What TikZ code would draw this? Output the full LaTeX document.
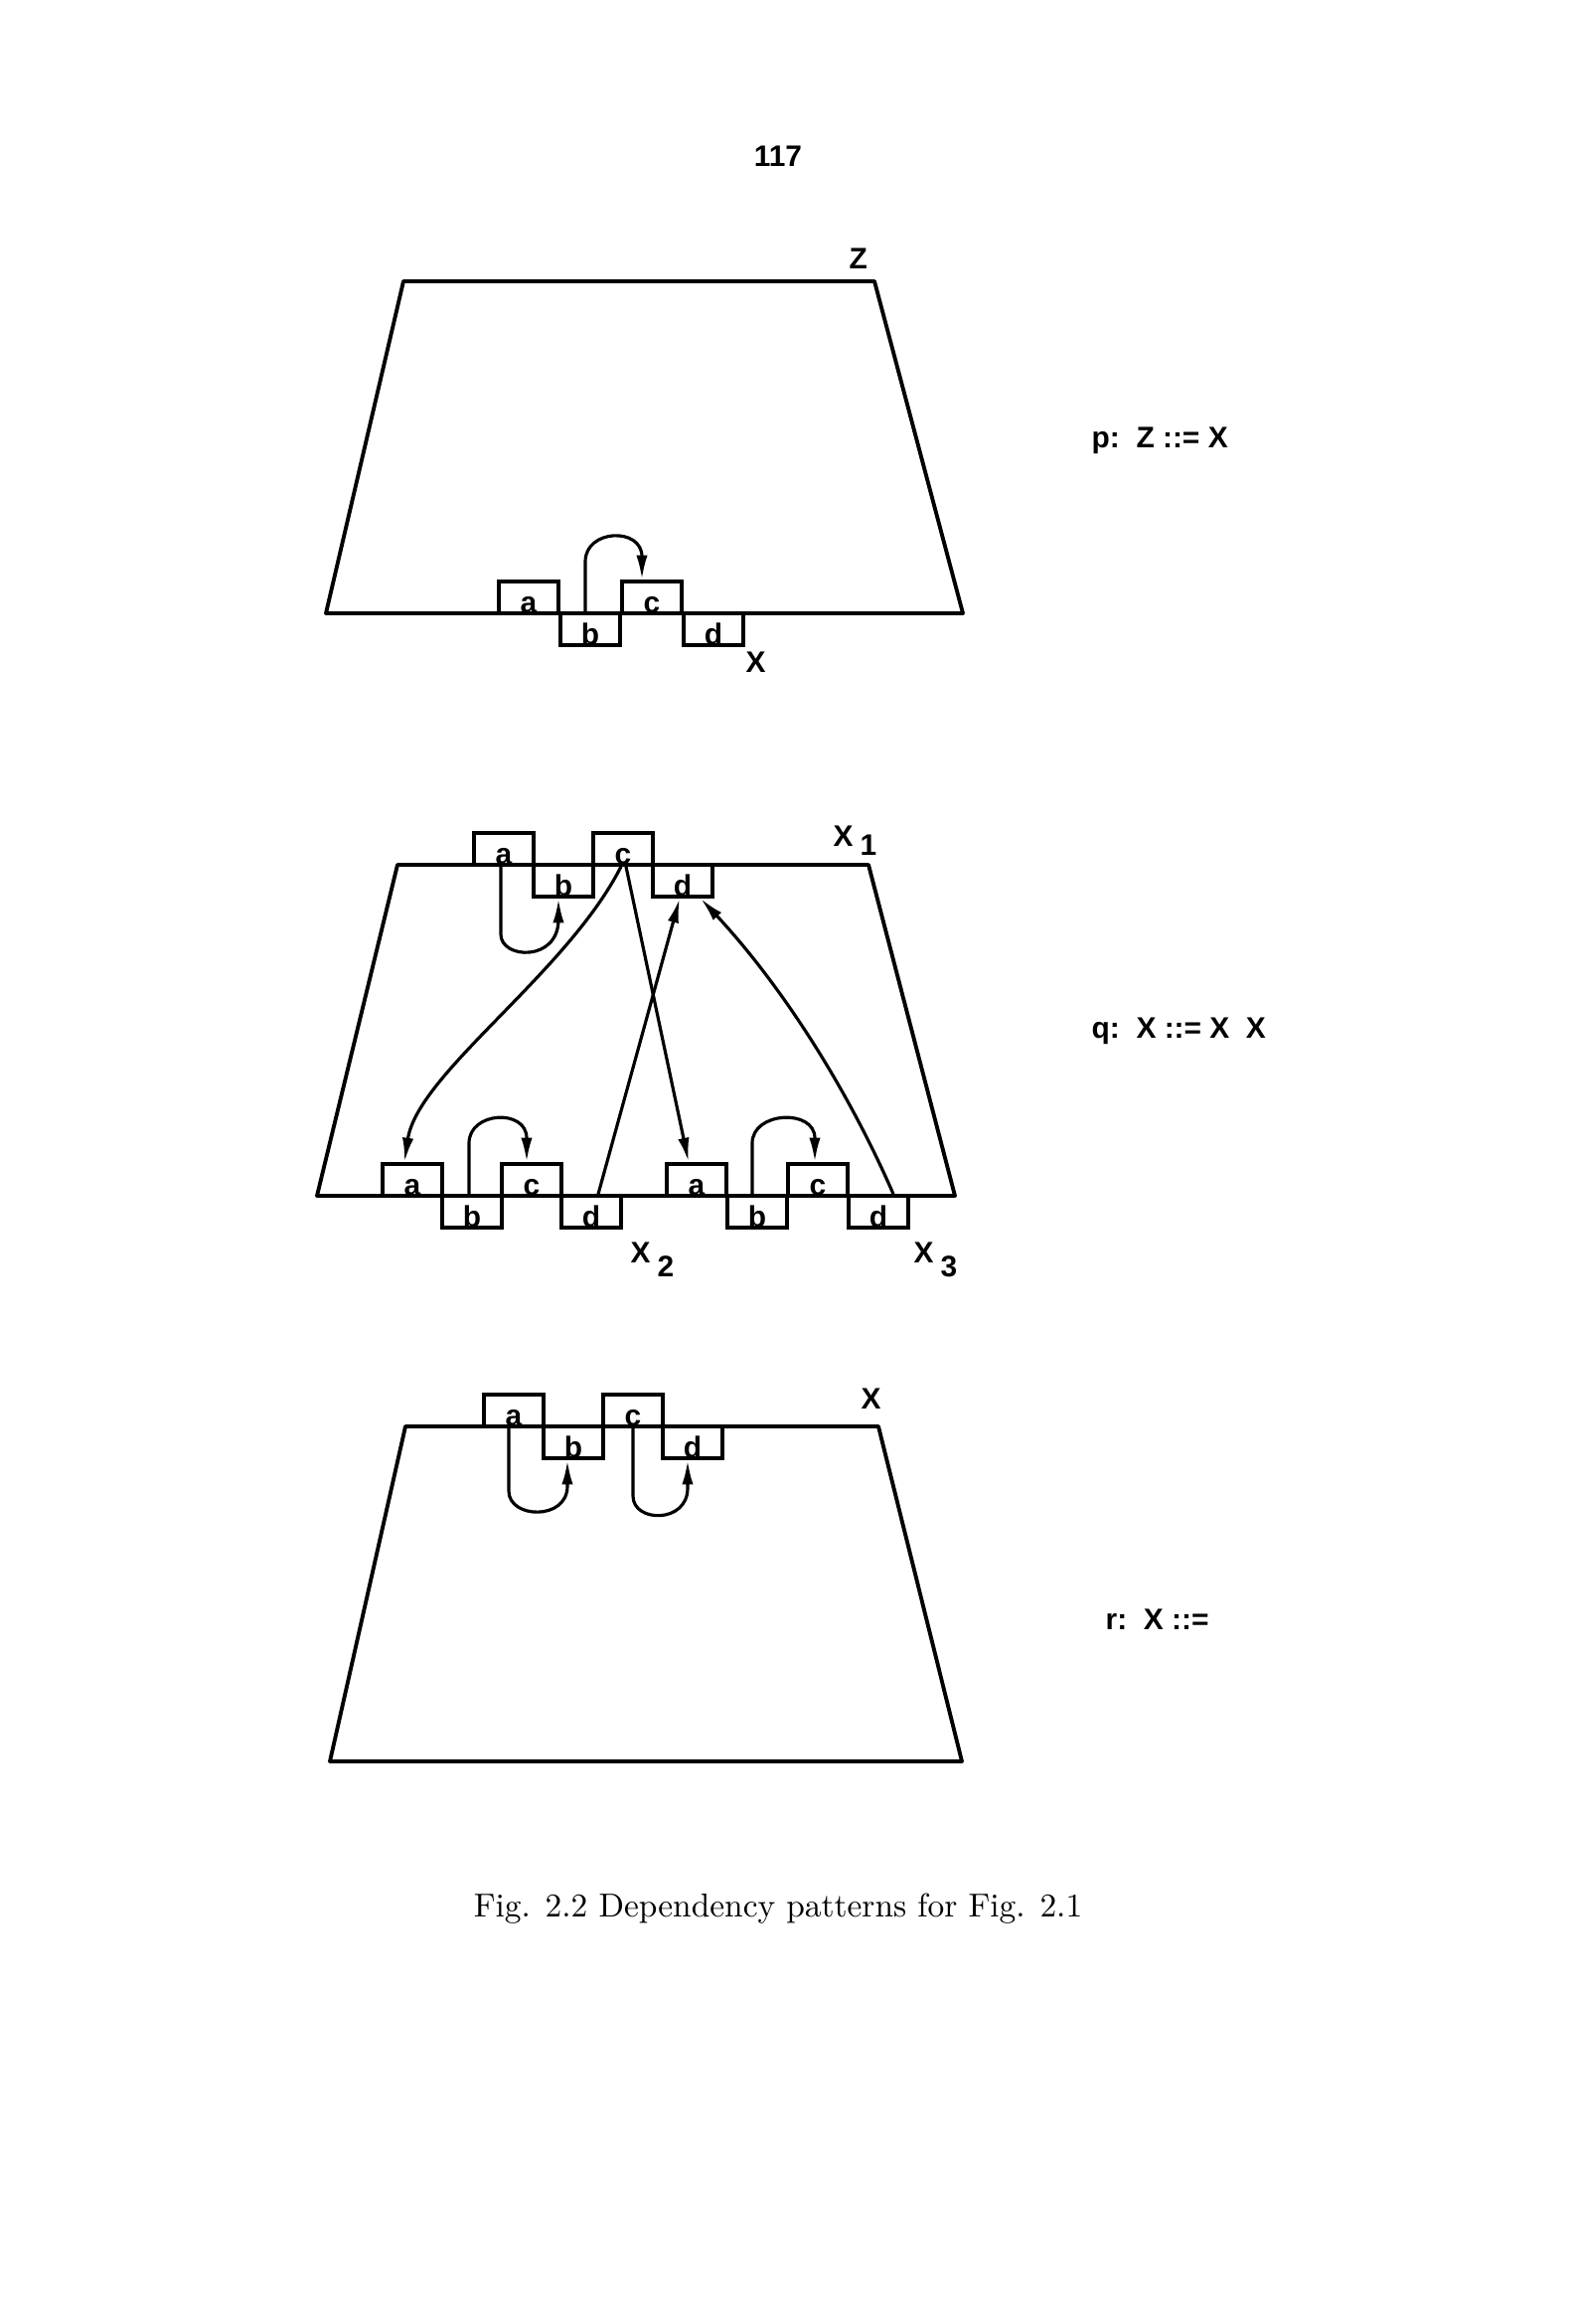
\documentclass[tikz,border=0pt]{standalone}
\usepackage{fontspec}
\setsansfont{Liberation Sans}
\usepackage{tikz}
\usetikzlibrary{arrows.meta, positioning, calc}

\begin{document}
\begin{tikzpicture}[x=0.01cm, y=-0.01cm,
  frame/.style={line width=1.1pt, line join=round},
  slot/.style={draw, line width=1pt, minimum width=0.6cm, minimum height=0.32cm, inner sep=0pt},
  lbl/.style={anchor=base, yshift=0.6pt, inner sep=0pt, font=\fontsize{8.5}{10}\sffamily\bfseries},
  dep/.style={line width=0.9pt, -{Latex[length=7pt,width=3.2pt]}},
  sym/.style={anchor=base west, inner sep=0pt, font=\fontsize{8.5}{10}\sffamily\bfseries}]

\useasboundingbox[fill=white] (0,0) rectangle (1587,2338);

% Page number
\node[font=\fontsize{8.5}{10}\sffamily\bfseries] (page) at (783,157) {117};

% Trees
\draw[frame] (406,283) -- (880,283) -- (969,617) -- (328,617) -- cycle;
\draw[frame] (400,870) -- (874,870) -- (961,1203) -- (319,1203) -- cycle;
\draw[frame] (408,1435) -- (884,1435) -- (968,1772) -- (332,1772) -- cycle;

% Attribute slots a b c d
\foreach \row/\x/\y/\s in {p/532/617/62, q1/507/870/60, q2/415/1203/60, q3/701/1203/61, r/517/1435/60}
    \foreach \n/\i/\d in {a/0/-1, b/1/1, c/2/-1, d/3/1}
        \node[slot, label={[lbl]south:\n}] (\row\n) at ({\x+\i*\s},{\y+\d*16}) {};

% Symbol names
\node[sym] (pZ) at (854,270) {Z};
\node[sym] (pX) at (750,676) {X};
\node[sym] (qX1) at (838,851) {X\hspace{2pt}\raisebox{-2.8pt}{1}};
\node[sym] (qX2) at (634,1270) {X\hspace{2pt}\raisebox{-4pt}{2}};
\node[sym] (qX3) at (919,1270) {X\hspace{2pt}\raisebox{-4pt}{3}};
\node[sym] (rX) at (866,1417) {X};

% Productions
\node[sym] (prule) at (1098,450) {p:\ \ Z ::= X};
\node[sym] (qrule) at (1098,1044) {q:\ \ X ::= X\ \ X};
\node[sym] (rrule) at (1112,1639) {r:\ \ X ::=};

% p: dependencies
\draw[dep] ($(pb.north)+(-5,0)$) -- (589,565) .. controls (589,532) and (646,530) .. (646,560) -- ($(pc.north)+(-10,0)$);

% q: dependencies
\draw[dep] ($(q1a.south)+(-3,0)$) -- (504,940) .. controls (504,965) and (562,968) .. (562,925) -- ($(q1b.south)+(-5,0)$);
\draw[dep] ($(q1c.south)+(-2,0)$) .. controls (570,980) and (420,1080) .. ($(q2a.north)+(-8,0)$);
\draw[dep] ($(q1c.south)+(3,0)$) -- ($(q3a.north)+(-8,0)$);
\draw[dep] ($(q2d.north)+(7,0)$) -- ($(q1d.south)+(-3,0)$);
\draw[dep] ($(q3d.north)+(15,0)$) .. controls (855,1100) and (790,995) .. ($(q1d.south)+(18,0)$);
\draw[dep] ($(q2b.north)+(-3,0)$) -- (472,1150) .. controls (472,1118) and (530,1115) .. (530,1145) -- ($(q2c.north)+(-5,0)$);
\draw[dep] ($(q3b.north)+(-5,0)$) -- (757,1150) .. controls (757,1118) and (820,1115) .. (820,1145) -- ($(q3c.north)+(-3,0)$);

% r: dependencies
\draw[dep] ($(ra.south)+(-5,0)$) -- (512,1500) .. controls (512,1528) and (571,1530) .. (571,1495) -- ($(rb.south)+(-6,0)$);
\draw[dep] (rc.south) -- (637,1505) .. controls (637,1532) and (692,1533) .. (692,1497) -- ($(rd.south)+(-5,0)$);

% Caption
\node[font=\fontsize{9.5}{12}\selectfont] (cap) at (783,1920) {Fig. 2.2 Dependency patterns for Fig. 2.1};
\end{tikzpicture}
\end{document}
